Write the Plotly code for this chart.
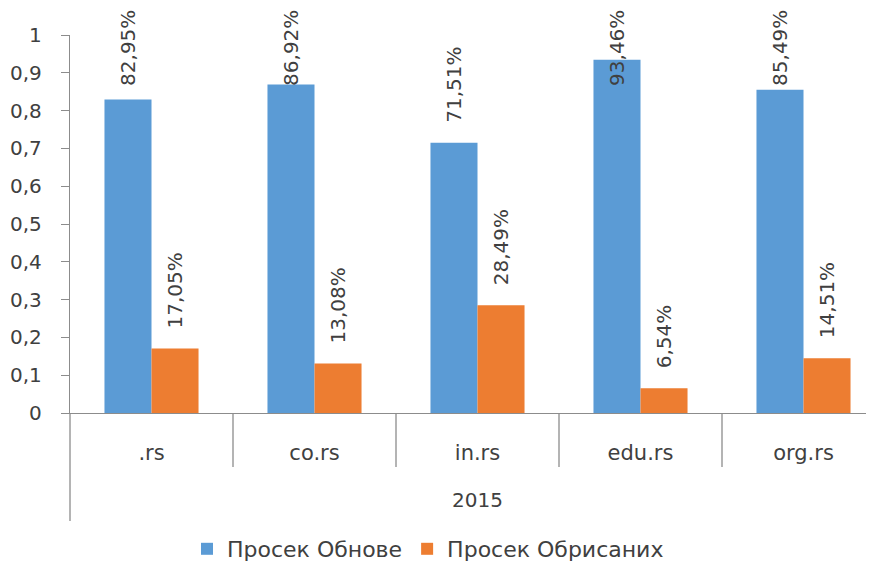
import plotly.graph_objects as go

categories = [".rs", "co.rs", "in.rs", "edu.rs", "org.rs"]
group_label = "2015"
series_names = ["Просек Обнове", "Просек Обрисаних"]
obnove = [0.8295, 0.8692, 0.7151, 0.9346, 0.8549]
obrisanih = [0.1705, 0.1308, 0.2849, 0.0654, 0.1451]
y_ticks = [0, 0.1, 0.2, 0.3, 0.4, 0.5, 0.6, 0.7, 0.8, 0.9, 1]

colors = ["#5b9bd5", "#ed7d31"]
axis_color = "#8c8c8c"
text_color = "#404040"
FONT = "DejaVu Sans"

# page body has an 8px margin, so the figure is 8px smaller than the window
W, H = 866, 556
m_l, m_r, m_t, m_b = 62, 0, 27, 151
plot_h = H - m_t - m_b

def pct(v):
    return f"{v * 100:.2f}".replace(".", ",") + "%"

fig = go.Figure()
for name, vals, col in zip(series_names, [obnove, obrisanih], colors):
    fig.add_trace(go.Bar(
        x=categories, y=vals, name=name,
        marker=dict(color=col, line=dict(width=0)),
    ))

# data labels (rotated), pushed down when they would leave the plot top
gap = 18 / plot_h
cap = 0.86
shift = 23.5
for sign, vals in zip([-1, 1], [obnove, obrisanih]):
    for c, v in zip(categories, vals):
        fig.add_annotation(
            x=c, y=min(v + gap, cap), xref="x", yref="y",
            text=pct(v), textangle=-90, showarrow=False,
            xanchor="center", yanchor="bottom", xshift=sign * shift,
            font=dict(family=FONT, size=20, color=text_color),
        )

# category separators and outer axis line
for i in range(len(categories) - 1):
    fig.add_shape(type="line", xref="x", yref="paper",
                  x0=i + 0.5, x1=i + 0.5, y0=0, y1=-54 / plot_h,
                  line=dict(color=axis_color, width=1.3))
fig.add_shape(type="line", xref="paper", yref="paper",
              x0=0, x1=0, y0=0, y1=-108 / plot_h,
              line=dict(color=axis_color, width=1.3))

fig.add_annotation(
    x=categories[2], xref="x", y=-87 / plot_h, yref="paper",
    text=group_label, showarrow=False, xanchor="center", yanchor="middle",
    font=dict(family=FONT, size=20, color=text_color),
)

fig.update_layout(
    width=W, height=H,
    margin=dict(l=m_l, r=m_r, t=m_t, b=m_b),
    paper_bgcolor="white", plot_bgcolor="white",
    separators=",.",
    barmode="group", bargap=0.423, bargroupgap=0,
    showlegend=True,
    legend=dict(orientation="h", xref="container", yref="container",
                x=0.485, xanchor="center", y=1 - 541 / H, yanchor="middle",
                font=dict(family=FONT, size=22, color=text_color),
                itemwidth=30, tracegroupgap=0),
    font=dict(family=FONT, color=text_color),
)
fig.update_xaxes(
    type="category", range=[-0.5, -0.5 + (W - m_l - m_r) / 163],
    showline=True, linecolor=axis_color, linewidth=1.3,
    ticks="", showgrid=False, zeroline=False,
    tickfont=dict(family=FONT, size=21, color=text_color),
    ticklabelstandoff=21,
)
fig.update_yaxes(
    range=[0, 1], tickvals=y_ticks,
    showline=True, linecolor=axis_color, linewidth=1.3,
    ticks="outside", ticklen=8, tickcolor=axis_color, tickwidth=1.3,
    showgrid=False, zeroline=False,
    tickfont=dict(family=FONT, size=20, color=text_color),
    ticklabelstandoff=15,
)

fig.write_html("out.html")
